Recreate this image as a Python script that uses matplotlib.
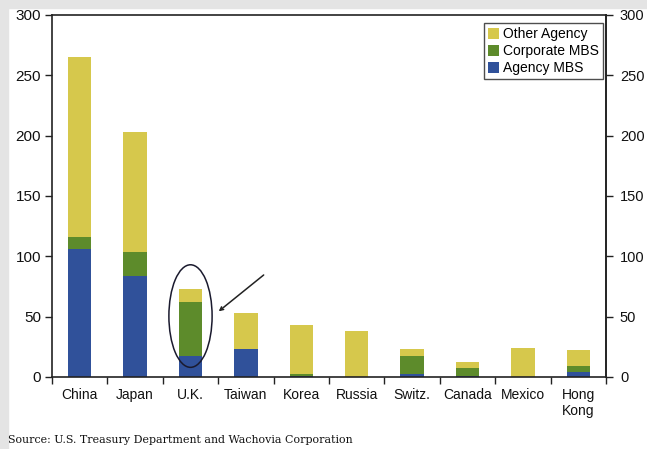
import matplotlib.pyplot as plt
from matplotlib.patches import Ellipse
import numpy as np

countries = ["China", "Japan", "U.K.", "Taiwan", "Korea", "Russia",
             "Switz.", "Canada", "Mexico", "Hong\nKong"]
agency_mbs = [106, 84, 17, 23, 0.5, 0, 2.5, 0.5, 0, 4]
corporate_mbs = [10, 20, 45, 0, 2, 0, 15, 7, 0, 5]
other_agency = [149, 99, 11, 30, 41, 38, 6, 5, 24, 13]

blue = "#30519a"
green = "#5d8b2b"
yellow = "#d6c84c"

plt.rcParams['font.family'] = ['Liberation Sans Narrow', 'Liberation Sans', 'DejaVu Sans']

fig = plt.figure(figsize=(6.47, 4.49), dpi=100)
fig.patch.set_facecolor("white")
# grey page margin along the top and left
fig.add_artist(plt.Rectangle((0, 0), 8 / 647, 1, transform=fig.transFigure,
                             color="#e4e4e4", zorder=-1))
fig.add_artist(plt.Rectangle((0, 1 - 8 / 449), 1, 8 / 449, transform=fig.transFigure,
                             color="#e4e4e4", zorder=-1))

ax = fig.add_axes([52 / 647, 1 - 377 / 449, 554 / 647, 362 / 449])
x = np.arange(len(countries))
w = 0.42
b1 = ax.bar(x, agency_mbs, w, color=blue, label="Agency MBS")
b2 = ax.bar(x, corporate_mbs, w, bottom=agency_mbs, color=green, label="Corporate MBS")
base = np.array(agency_mbs) + np.array(corporate_mbs)
b3 = ax.bar(x, other_agency, w, bottom=base, color=yellow, label="Other Agency")

ax.set_xlim(-0.5, len(countries) - 0.5)
ax.set_ylim(0, 300)
ax.set_yticks(range(0, 301, 50))
ax.set_xticks(x)
ax.set_xticklabels(countries, fontsize=10, color="#111111")
ax.tick_params(axis="x", which="major", length=0, pad=8)
ax.set_xticks(np.arange(-0.5, len(countries), 1), minor=True)
ax.tick_params(axis="x", which="minor", length=5, width=1, color="#222222")
ax.tick_params(axis="y", length=5, width=1, color="#222222", labelsize=11,
               labelcolor="#111111", pad=3)
for s in ax.spines.values():
    s.set_color("#222222")
    s.set_linewidth(1.2)

# same scale repeated on the right side
ax2 = ax.secondary_yaxis("right")
ax2.set_yticks(range(0, 301, 50))
ax2.tick_params(length=5, width=1, color="#222222", labelsize=10.5,
                labelcolor="#111111", pad=5)
ax2.spines["right"].set_color("#222222")
ax2.spines["right"].set_linewidth(1.2)

leg = ax.legend(handles=[b3, b2, b1], loc="upper right", fontsize=10,
                frameon=True, fancybox=False, handlelength=0.8, handleheight=0.9,
                handletextpad=0.3, labelspacing=0.22, borderpad=0.3,
                borderaxespad=0, bbox_to_anchor=(0.995, 0.978))
leg.get_frame().set_edgecolor("#222222")
leg.get_frame().set_linewidth(1.0)

# circle the U.K. bar and point at it
ax.add_patch(Ellipse((2, 50.5), 0.78, 85, fill=False, edgecolor="#1a1a2e", lw=1.1))
ax.annotate("", xy=(2.47, 53), xytext=(3.36, 86),
            arrowprops=dict(arrowstyle="->", color="#222222", lw=1.1, mutation_scale=6))

fig.text(8 / 647, 1 - 440 / 449, "Source: U.S. Treasury Department and Wachovia Corporation",
         family="DejaVu Serif", fontsize=7.9, color="#111111", va="center")

fig.savefig("out.png", dpi=100)
